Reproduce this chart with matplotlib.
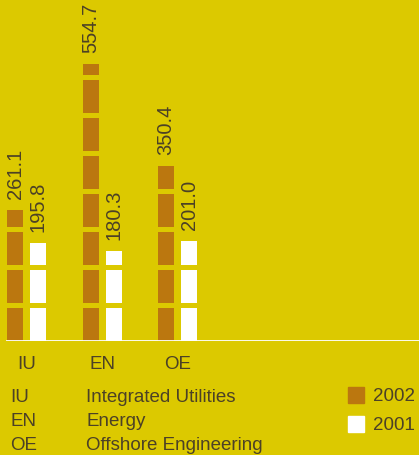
import numpy as np
import matplotlib.pyplot as plt
from matplotlib.patches import Rectangle

plt.rcParams['font.family'] = ['Liberation Sans', 'DejaVu Sans']

categories = ["IU", "EN", "OE"]
names = ["Integrated Utilities", "Energy", "Offshore Engineering"]
v2002 = [261.1, 554.7, 350.4]
v2001 = [195.8, 180.3, 201.0]
years = ["2002", "2001"]

BG = "#DCC900"
BROWN = "#BB770F"
TXT = "#4C4126"
W, H = 419, 456

fig = plt.figure(figsize=(W / 100, H / 100), dpi=100, facecolor=BG)
# axes: baseline at y=342px, 0.5 px per unit
ax = fig.add_axes([0, (H - 342) / H, 1, 342 / H])
ax.set_facecolor(BG)
ax.set_ylim(0, 684)
ax.set_xlim(-26.5 / 75.5, (W - 26.5) / 75.5)
ax.axis("off")

x = np.arange(len(categories))
bw = 16 / 75.5
off = 11.5 / 75.5
ax.bar(x - off, v2002, width=bw, color=BROWN, zorder=2)
ax.bar(x + off, v2001, width=bw, color="white", zorder=2)

# segment gaps in the bars
for k in range(8):
    lo = 66 + 76 * k
    ax.axhspan(lo, lo + 11, color=BG, zorder=2.5, lw=0)

ax.axhline(0, xmin=7 / W, xmax=1, color="white", lw=1.3, zorder=4)

for xi, a, b in zip(x, v2002, v2001):
    ax.text(xi - off, a + 24, f"{a:.1f}", rotation=90, ha="center", va="bottom",
            fontsize=14.5, color=TXT, zorder=5)
    ax.text(xi + off, b + 24, f"{b:.1f}", rotation=90, ha="center", va="bottom",
            fontsize=14.5, color=TXT, zorder=5)

for xi, c in zip(x, categories):
    ax.text(xi, -54, c, ha="center", va="baseline", fontsize=13.5, color=TXT)

# explanation table
for i, (c, n) in enumerate(zip(categories, names)):
    yb = 1 - (402 + 24 * i) / H
    fig.text(10 / W, yb, c, ha="left", va="baseline", fontsize=13.5, color=TXT)
    fig.text(86 / W, yb, n, ha="left", va="baseline", fontsize=13.5, color=TXT)

# legend
for i, (yr, col) in enumerate(zip(years, [BROWN, "white"])):
    top = 388 + 29 * i
    fig.patches.append(Rectangle((348 / W, 1 - (top + 16) / H), 16 / W, 16 / H,
                                 transform=fig.transFigure, color=col))
    fig.text(373 / W, 1 - (top + 13) / H, yr, ha="left", va="baseline",
             fontsize=13.5, color=TXT)

fig.savefig("out.png", dpi=100, facecolor=BG)
